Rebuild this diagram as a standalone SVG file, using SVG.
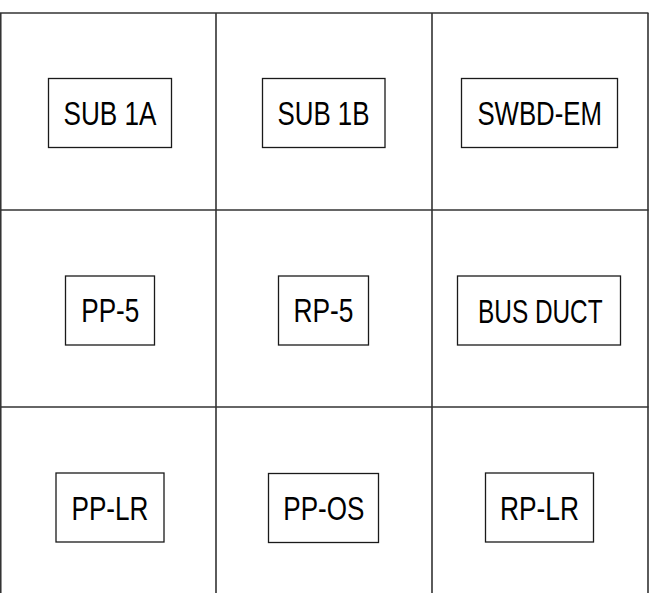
<svg xmlns="http://www.w3.org/2000/svg" width="656" height="593" viewBox="0 0 656 593">
<style>
.grid{stroke:#333;stroke-width:1.6;fill:none}
.box{fill:#fff;stroke:#1a1a1a;stroke-width:1.3}
.lbl{font-family:"Liberation Sans",Arial,sans-serif;font-size:34px;fill:#000;text-anchor:middle}
</style>
<rect width="656" height="593" fill="#fff"/>
<g id="grid" class="grid">
<line x1="0" y1="13" x2="648.5" y2="13"/>
<line x1="0" y1="210" x2="648.5" y2="210"/>
<line x1="0" y1="407" x2="648.5" y2="407"/>
<line x1="0.75" y1="13" x2="0.75" y2="593"/>
<line x1="216" y1="13" x2="216" y2="593"/>
<line x1="432" y1="13" x2="432" y2="593"/>
<line x1="648" y1="13" x2="648" y2="593"/>
</g>
<g id="sub1a"><rect class="box" x="48.5" y="78.5" width="123" height="69"/><text class="lbl" x="110" y="124.5" textLength="93" lengthAdjust="spacingAndGlyphs">SUB 1A</text></g>
<g id="sub1b"><rect class="box" x="262.5" y="78.5" width="122.5" height="69"/><text class="lbl" x="323.5" y="124.5" textLength="92" lengthAdjust="spacingAndGlyphs">SUB 1B</text></g>
<g id="swbd-em"><rect class="box" x="461.5" y="78.5" width="156" height="69"/><text class="lbl" x="539.7" y="124.5" textLength="124.5" lengthAdjust="spacingAndGlyphs">SWBD-EM</text></g>
<g id="pp-5"><rect class="box" x="65.5" y="276" width="89" height="69"/><text class="lbl" x="110.3" y="322" textLength="58" lengthAdjust="spacingAndGlyphs">PP-5</text></g>
<g id="rp-5"><rect class="box" x="278.5" y="276" width="90" height="69"/><text class="lbl" x="323.5" y="322" textLength="60" lengthAdjust="spacingAndGlyphs">RP-5</text></g>
<g id="bus-duct"><rect class="box" x="457.5" y="276" width="163" height="69"/><text class="lbl" x="540.3" y="322.5" textLength="124.5" lengthAdjust="spacingAndGlyphs">BUS DUCT</text></g>
<g id="pp-lr"><rect class="box" x="56" y="473" width="108" height="69"/><text class="lbl" x="110" y="519.5" textLength="77" lengthAdjust="spacingAndGlyphs">PP-LR</text></g>
<g id="pp-os"><rect class="box" x="268.5" y="473.5" width="110" height="69"/><text class="lbl" x="323.8" y="519.5" textLength="81" lengthAdjust="spacingAndGlyphs">PP-OS</text></g>
<g id="rp-lr"><rect class="box" x="485.5" y="473" width="108" height="69"/><text class="lbl" x="539.5" y="519.5" textLength="79" lengthAdjust="spacingAndGlyphs">RP-LR</text></g>
<g id="connectors"></g>
</svg>
